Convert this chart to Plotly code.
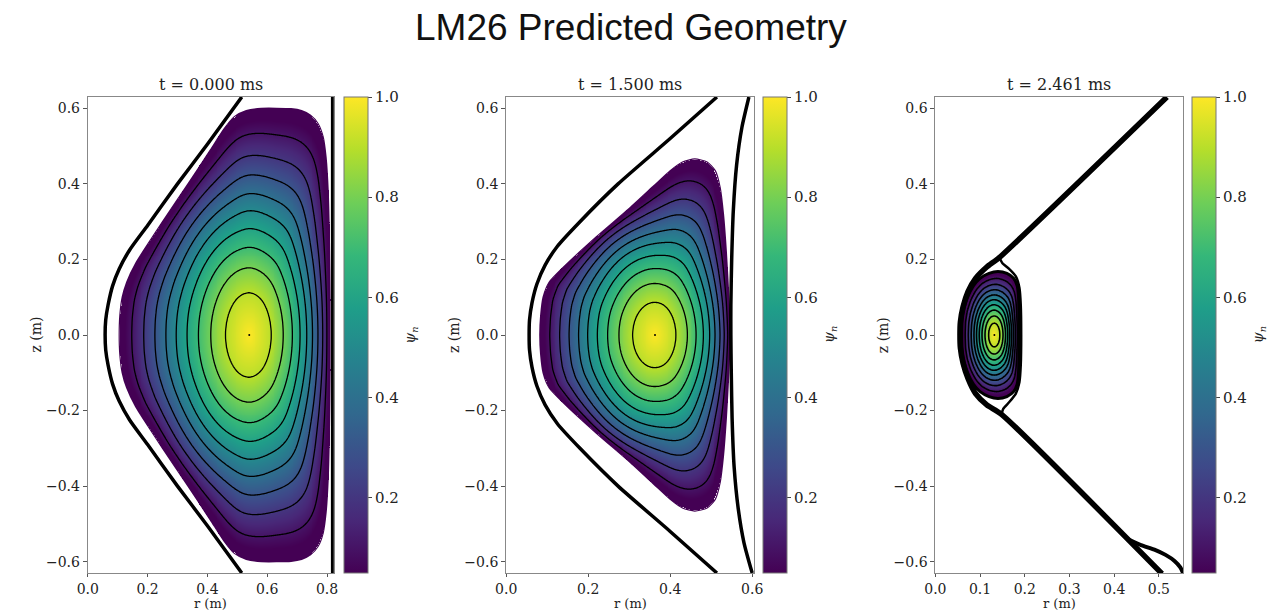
import numpy as np
import plotly.graph_objects as go

W, H = 1284, 610

# ---------------- data ----------------
main_title = "LM26 Predicted Geometry"
titles = ["t = 0.000 ms", "t = 1.500 ms", "t = 2.461 ms"]
r_max = [0.823, 0.605, 0.555]
z_lim = 0.63
x_ticks = [[0.0, 0.2, 0.4, 0.6, 0.8], [0.0, 0.2, 0.4, 0.6], [0.0, 0.1, 0.2, 0.3, 0.4, 0.5]]
y_ticks = [-0.6, -0.4, -0.2, 0.0, 0.2, 0.4, 0.6]
cbar_ticks = [0.2, 0.4, 0.6, 0.8, 1.0]
cbar_min = 0.05

# flux-surface levels and where they sit (fraction of the way from axis to edge)
psi_levels = [0.1, 0.2, 0.3, 0.4, 0.5, 0.6, 0.7, 0.8, 0.9]
rho_of_level = [0.90, 0.807, 0.722, 0.639, 0.562, 0.481, 0.396, 0.303, 0.19]

# magnetic axis and core ellipse (half-width, half-height scaled to the edge)
axis_r = [0.54, 0.363, 0.132]
axis_z = [0.0, 0.0, 0.0]
core_half_width = [0.405, 0.28, 0.067]
core_half_height = [0.59, 0.46, 0.167]

# plasma boundary, upper half (left midplane -> top -> right midplane)
bnd1_r = [0.105, 0.107, 0.115, 0.13, 0.16, 0.25, 0.335, 0.41, 0.455, 0.49, 0.53, 0.58, 0.68, 0.715, 0.745, 0.77, 0.787, 0.797, 0.804, 0.808, 0.81, 0.81]
bnd1_z = [0.0, 0.05, 0.10, 0.14, 0.19, 0.30, 0.40, 0.49, 0.545, 0.578, 0.594, 0.60, 0.599, 0.594, 0.582, 0.56, 0.525, 0.47, 0.38, 0.25, 0.10, 0.0]
bnd2_r = [0.082, 0.084, 0.09, 0.105, 0.14, 0.22, 0.30, 0.36, 0.40, 0.43, 0.46, 0.49, 0.51, 0.522, 0.53, 0.537, 0.543, 0.546]
bnd2_z = [0.0, 0.05, 0.10, 0.14, 0.18, 0.26, 0.335, 0.395, 0.435, 0.458, 0.466, 0.458, 0.435, 0.39, 0.32, 0.22, 0.10, 0.0]
bnd3_r = [0.059, 0.06, 0.064, 0.072, 0.085, 0.10, 0.12, 0.14, 0.16, 0.175, 0.183, 0.186, 0.187, 0.188]
bnd3_z = [0.0, 0.04, 0.07, 0.10, 0.13, 0.15, 0.163, 0.168, 0.163, 0.15, 0.13, 0.10, 0.05, 0.0]

# separatrix / wall lines
sep1_left_r = [0.515, 0.40, 0.30, 0.20, 0.14, 0.105, 0.083, 0.068, 0.06, 0.058]
sep1_left_z = [0.63, 0.505, 0.40, 0.29, 0.225, 0.175, 0.13, 0.08, 0.04, 0.0]
sep1_right_r = [0.818, 0.818]
sep1_right_z = [0.63, -0.63]

sep2_left_r = [0.514, 0.40, 0.273, 0.18, 0.125, 0.095, 0.075, 0.063, 0.057, 0.056]
sep2_left_z = [0.63, 0.52, 0.40, 0.30, 0.235, 0.185, 0.135, 0.085, 0.04, 0.0]
sep2_right_r = [0.592, 0.575, 0.562, 0.554, 0.550, 0.548, 0.548, 0.549, 0.551, 0.556, 0.566, 0.58, 0.600]
sep2_right_z = [0.63, 0.55, 0.45, 0.33, 0.2, 0.08, 0.0, -0.1, -0.22, -0.35, -0.46, -0.55, -0.63]

sep3_outer_r = [0.518, 0.143, 0.115, 0.09, 0.073, 0.062, 0.056, 0.055, 0.056, 0.062, 0.073, 0.09, 0.115, 0.148, 0.507]
sep3_outer_z = [0.63, 0.205, 0.18, 0.15, 0.115, 0.075, 0.035, 0.0, -0.035, -0.075, -0.115, -0.155, -0.185, -0.21, -0.632]
sep3_inner_r = [0.143, 0.15, 0.165, 0.18, 0.188, 0.191, 0.192, 0.191, 0.188, 0.18, 0.165, 0.152, 0.148]
sep3_inner_z = [0.205, 0.19, 0.175, 0.155, 0.125, 0.08, 0.0, -0.08, -0.125, -0.155, -0.178, -0.195, -0.21]
sep3_branch_r = [0.43, 0.46, 0.49, 0.515, 0.535, 0.548, 0.556]
sep3_branch_z = [-0.54, -0.556, -0.568, -0.582, -0.598, -0.615, -0.635]

# ---------------- layout in pixels ----------------
ax_left_px = [78, 503, 939]
ax_right_px = [328, 755, 1191]
cb_left_px = [344, 770, 1206]
ax_top_px, ax_bot_px = 97, 573

SERIF = "DejaVu Serif"
NANG = 720


def mirror(r, z):
    r_full = list(r) + list(r[::-1][1:])
    z_full = list(z) + [-v for v in z[::-1][1:]]
    return r_full, z_full


def polar_profile(pr, pz, c_r, c_z, theta):
    """Distance from (c_r, c_z) to a closed curve, as function of polar angle."""
    ang = np.arctan2(pz - c_z, pr - c_r)
    dist = np.hypot(pr - c_r, pz - c_z)
    o = np.argsort(ang)
    ang, dist = ang[o], dist[o]
    ang_e = np.concatenate([ang - 2 * np.pi, ang, ang + 2 * np.pi])
    dist_e = np.concatenate([dist, dist, dist])
    return np.interp(theta, ang_e, dist_e)


def densify(br, bz, n=30):
    pr, pz = [], []
    for i in range(len(br) - 1):
        t = np.linspace(0, 1, n, endpoint=False)
        pr.append(br[i] + (br[i + 1] - br[i]) * t)
        pz.append(bz[i] + (bz[i + 1] - bz[i]) * t)
    return np.concatenate(pr), np.concatenate(pz)


def rho_field(i, br, bz, R, Z):
    r0, z0 = axis_r[i], axis_z[i]
    cb_r = 0.5 * (min(br) + max(br))
    cb_z = 0.0
    th = np.linspace(-np.pi, np.pi, NANG, endpoint=False)
    pr, pz = densify(br, bz)
    Db = polar_profile(pr, pz, cb_r, cb_z, th)
    k = np.exp(-0.5 * (np.arange(-8, 9) / 3.0) ** 2)
    k /= k.sum()
    Db = np.convolve(np.concatenate([Db[-8:], Db, Db[:8]]), k, mode="same")[8:-8]
    A, B = core_half_width[i], core_half_height[i]
    De = 1.0 / np.sqrt((np.cos(th) / A) ** 2 + (np.sin(th) / B) ** 2)
    Bx, By = Db * np.cos(th), Db * np.sin(th)
    Ex, Ey = De * np.cos(th), De * np.sin(th)

    rho_k = np.concatenate([[0.0], np.linspace(0, 1, 161)[1:], np.linspace(1.02, 4.0, 80)])
    Dk = np.zeros((len(rho_k), NANG))
    for k_i, rho in enumerate(rho_k):
        if rho == 0:
            continue
        if rho <= 1:
            w = rho ** 2
            cx = r0 + (cb_r - r0) * w
            cz = z0 + (cb_z - z0) * w
            px = cx + rho * ((1 - w) * Ex + w * Bx)
            pz_ = cz + rho * ((1 - w) * Ey + w * By)
        else:
            px = cb_r + rho * Bx
            pz_ = cb_z + rho * By
        Dk[k_i] = polar_profile(px, pz_, r0, z0, th)
    Dk = np.maximum.accumulate(Dk, axis=0) + np.arange(len(rho_k))[:, None] * 1e-9

    ang = np.arctan2(Z - z0, R - r0)
    d = np.hypot(R - r0, Z - z0)
    t = (ang + np.pi) / (2 * np.pi) * NANG
    j0 = np.floor(t).astype(int) % NANG
    f = t - np.floor(t)
    j1 = (j0 + 1) % NANG
    rho0 = np.zeros_like(d)
    rho1 = np.zeros_like(d)
    for j in range(NANG):
        m = j0 == j
        if m.any():
            rho0[m] = np.interp(d[m], Dk[:, j], rho_k)
        m = j1 == j
        if m.any():
            rho1[m] = np.interp(d[m], Dk[:, j], rho_k)
    return (1 - f) * rho0 + f * rho1


def psi_field(i, br, bz):
    nr, nz = 260, 480
    r = np.linspace(0, r_max[i], nr)
    z = np.linspace(-z_lim, z_lim, nz)
    R, Z = np.meshgrid(r, z)
    rho = rho_field(i, br, bz, R, Z)
    rp = [0.0] + rho_of_level[::-1] + [1.0]
    pp = [1.0] + psi_levels[::-1] + [0.0]
    psi = np.interp(rho, rp, pp)
    psi = np.where(rho > 1, -(rho - 1), psi)
    return r, z, psi, rho


boundaries = [(bnd1_r, bnd1_z), (bnd2_r, bnd2_z), (bnd3_r, bnd3_z)]

fig = go.Figure()

y0 = 1 - ax_bot_px / H
y1 = 1 - ax_top_px / H
TXT = "#222"

for i in range(3):
    xa = "x" if i == 0 else f"x{i+1}"
    ya = "y" if i == 0 else f"y{i+1}"
    br, bz = mirror(*boundaries[i])
    r, z, psi, rho = psi_field(i, br, bz)
    fill = np.where(rho <= 1, psi, np.nan).astype(np.float32)
    fig.add_trace(go.Heatmap(
        x=r.astype(np.float32), y=z.astype(np.float32), z=fill,
        colorscale="Viridis", zmin=cbar_min, zmax=1.0, zsmooth=False,
        hoverinfo="skip", xaxis=xa, yaxis=ya,
        colorbar=dict(
            x=(cb_left_px[i] - 6) / W, xanchor="left", xpad=0,
            y=y0, yanchor="bottom", len=y1 - y0, lenmode="fraction", ypad=0,
            thickness=24, thicknessmode="pixels",
            outlinecolor="#777", outlinewidth=1,
            ticks="outside", ticklen=4, tickcolor="#444",
            tickvals=cbar_ticks, ticktext=[f"{v:.1f}" for v in cbar_ticks],
            tickfont=dict(family=SERIF, size=15, color=TXT),
        ),
    ))
    fig.add_trace(go.Contour(
        x=r.astype(np.float32), y=z.astype(np.float32), z=psi.astype(np.float32),
        contours=dict(start=psi_levels[0], end=psi_levels[-1],
                      size=round(psi_levels[1] - psi_levels[0], 3), coloring="none"),
        line=dict(color="black", width=1.3 if i < 2 else 1.6),
        showscale=False, hoverinfo="skip", xaxis=xa, yaxis=ya,
    ))

    def line(rr, zz, w, color="black"):
        fig.add_trace(go.Scatter(x=rr, y=zz, mode="lines",
                                 line=dict(color=color, width=w, shape="spline", smoothing=0.6),
                                 hoverinfo="skip", showlegend=False, xaxis=xa, yaxis=ya))

    if i == 0:
        line(br, bz, 1.2, "#440154")
        line(*mirror(sep1_left_r, sep1_left_z), 3.5)
        line(sep1_right_r, sep1_right_z, 3)
    elif i == 1:
        line(br, bz, 1.2, "#440154")
        line(*mirror(sep2_left_r, sep2_left_z), 3.5)
        line(sep2_right_r, sep2_right_z, 3.5)
    else:
        line(br, bz, 3)
        line(sep3_outer_r, sep3_outer_z, 5.5)
        line(sep3_inner_r, sep3_inner_z, 2.5)
        line(sep3_branch_r, sep3_branch_z, 4)

    fig.add_trace(go.Scatter(x=[axis_r[i]], y=[axis_z[i]], mode="markers",
                             marker=dict(color="black", size=2),
                             hoverinfo="skip", showlegend=False, xaxis=xa, yaxis=ya))

    axis_common = dict(showline=True, linecolor="#888", linewidth=1, mirror=True,
                       ticks="outside", tickcolor="#555",
                       showgrid=False, zeroline=False,
                       tickfont=dict(family=SERIF, size=14, color=TXT))
    fig.layout[f"xaxis{'' if i == 0 else i+1}"] = dict(
        domain=[ax_left_px[i] / W, ax_right_px[i] / W], range=[0, r_max[i]],
        anchor=ya, tickvals=x_ticks[i], ticktext=[f"{v:.1f}" for v in x_ticks[i]],
        ticklen=3, **axis_common)
    fig.layout[f"yaxis{'' if i == 0 else i+1}"] = dict(
        domain=[y0, y1], range=[-z_lim, z_lim], anchor=xa,
        tickvals=y_ticks, ticktext=[f"{v:.1f}".replace("-", "−") for v in y_ticks],
        ticklen=4, **axis_common)
    cx = (ax_left_px[i] + ax_right_px[i]) / 2 / W
    fig.add_annotation(text=titles[i], xref="paper", yref="paper",
                       x=cx, y=y1 + 1 / H,
                       xanchor="center", yanchor="bottom", showarrow=False,
                       font=dict(family=SERIF, size=16, color=TXT))
    fig.add_annotation(text="r (m)", xref="paper", yref="paper",
                       x=cx, y=1 - 603 / H, xanchor="center", yanchor="middle",
                       showarrow=False, font=dict(family=SERIF, size=13, color=TXT))
    fig.add_annotation(text="z (m)", xref="paper", yref="paper", textangle=-90,
                       x=(ax_left_px[i] - 53) / W, y=(y0 + y1) / 2,
                       xanchor="center", yanchor="middle",
                       showarrow=False, font=dict(family=SERIF, size=14, color=TXT))
    fig.add_annotation(text="<i>ψ<sub>n</sub></i>", xref="paper", yref="paper", textangle=-90,
                       x=(cb_left_px[i] + 62) / W, y=(y0 + y1) / 2,
                       xanchor="center", yanchor="middle",
                       showarrow=False, font=dict(family=SERIF, size=14, color=TXT))

fig.add_annotation(text=main_title, xref="paper", yref="paper",
                   x=630 / W, y=1 - 28 / H, xanchor="center", yanchor="middle",
                   showarrow=False, font=dict(family="Liberation Sans", size=37, color="#111"))

fig.update_layout(width=W, height=H, margin=dict(l=0, r=0, t=0, b=0),
                  plot_bgcolor="white", paper_bgcolor="white", showlegend=False)

fig.write_html("out.html")
